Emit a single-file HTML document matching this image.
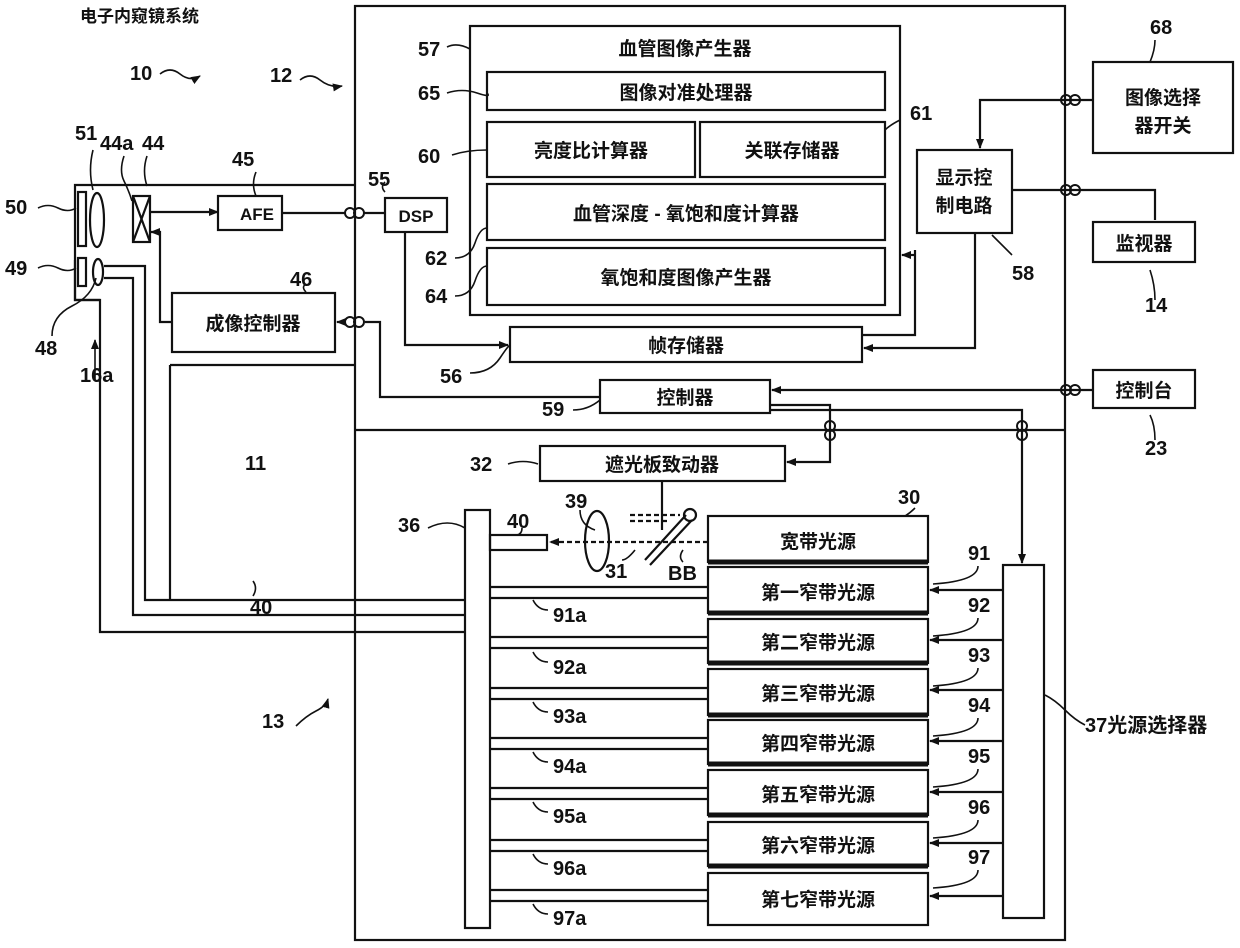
<!DOCTYPE html>
<html><head><meta charset="utf-8"><style>
body{margin:0;background:#fff}
svg text{font-family:"Liberation Sans","Noto Sans CJK SC",sans-serif;font-weight:bold;fill:#111}
.c{font-size:19px;text-anchor:middle}
.n{font-size:20px}
</style></head><body>
<svg width="1240" height="943" viewBox="0 0 1240 943" xmlns="http://www.w3.org/2000/svg">
<defs><marker id="a" markerUnits="userSpaceOnUse" markerWidth="10" markerHeight="8" refX="9" refY="4" orient="auto"><path d="M0,0 L10,4 L0,8 z" fill="#111"/></marker></defs>
<g fill="none" stroke="#111" stroke-width="2.2">
<rect x="355" y="6" width="710" height="934"/>
<line x1="355" y1="430" x2="1065" y2="430"/>
<polyline points="355,185 75,185 75,300 100,300"/>
<line x1="355" y1="365" x2="170" y2="365"/>
<polyline points="170,365 170,600"/>
<rect x="78" y="192" width="8" height="54"/>
<ellipse cx="97" cy="220" rx="7" ry="27"/>
<rect x="78" y="258" width="8" height="28"/>
<ellipse cx="98" cy="272" rx="5" ry="13"/>
<rect x="133" y="196" width="17" height="46"/>
<line x1="133" y1="196" x2="150" y2="242"/><line x1="150" y1="196" x2="133" y2="242"/>
<polyline points="75,260 75,300 100,300 100,632 465,632"/>
<polyline points="104,266 145,266 145,600 355,600"/>
<polyline points="104,278 133,278 133,615 465,615"/>
<line x1="355" y1="600" x2="465" y2="600"/>
<rect x="218" y="196" width="64" height="34"/>
<rect x="385" y="198" width="62" height="34"/>
<rect x="172" y="293" width="163" height="59"/>
<rect x="470" y="26" width="430" height="289"/>
<rect x="487" y="72" width="398" height="38"/>
<rect x="487" y="122" width="208" height="55"/>
<rect x="700" y="122" width="185" height="55"/>
<rect x="487" y="184" width="398" height="56"/>
<rect x="487" y="248" width="398" height="57"/>
<rect x="917" y="150" width="95" height="83"/>
<rect x="1093" y="62" width="140" height="91"/>
<rect x="1093" y="222" width="102" height="40"/>
<rect x="1093" y="370" width="102" height="38"/>
<rect x="510" y="327" width="352" height="35"/>
<rect x="600" y="380" width="170" height="33"/>
<rect x="540" y="446" width="245" height="35"/>
<rect x="465" y="510" width="25" height="418"/>
<rect x="490" y="535" width="57" height="15"/>
<ellipse cx="597" cy="541" rx="12" ry="30"/>
<rect x="708" y="516" width="220" height="46"/>
<rect x="1003" y="565" width="41" height="353"/>
<line x1="150" y1="212" x2="218" y2="212" marker-end="url(#a)"/>
<line x1="282" y1="213" x2="345" y2="213"/>
<line x1="364" y1="213" x2="385" y2="213"/>
<polyline points="172,322 160,322 160,232 151,232" marker-end="url(#a)"/>
<line x1="345" y1="322" x2="337" y2="322" marker-end="url(#a)"/>
<polyline points="365,322 380,322 380,397 600,397"/>
<polyline points="405,232 405,345 508,345" marker-end="url(#a)"/>
<polyline points="1093,100 980,100 980,148" marker-end="url(#a)"/>
<polyline points="1012,190 1155,190 1155,220"/>
<polyline points="975,233 975,348 864,348" marker-end="url(#a)"/>
<polyline points="915,250 915,335 862,335"/>
<line x1="915" y1="255" x2="902" y2="255" marker-end="url(#a)"/>
<line x1="1093" y1="390" x2="772" y2="390" marker-end="url(#a)"/>
<polyline points="770,405 830,405 830,462 787,462" marker-end="url(#a)"/>
<polyline points="770,410 1022,410 1022,563" marker-end="url(#a)"/>
<line x1="662" y1="481" x2="662" y2="530"/>
<line x1="645" y1="560" x2="686" y2="515"/><line x1="650" y1="565" x2="692" y2="520"/>
<circle cx="690" cy="515" r="6"/>
<line x1="630" y1="515" x2="680" y2="515" stroke-dasharray="5,3"/>
<line x1="630" y1="521" x2="670" y2="521" stroke-dasharray="5,3"/>
<line x1="708" y1="542" x2="550" y2="542" stroke-dasharray="5,3" marker-end="url(#a)"/>
<line x1="708" y1="562" x2="928" y2="562" stroke-width="5"/>
</g>
<g fill="none" stroke="#111" stroke-width="2">
<circle cx="350" cy="213" r="5"/><circle cx="359" cy="213" r="5"/>
<circle cx="350" cy="322" r="5"/><circle cx="359" cy="322" r="5"/>
<circle cx="1066" cy="100" r="5"/><circle cx="1075" cy="100" r="5"/>
<circle cx="1066" cy="190" r="5"/><circle cx="1075" cy="190" r="5"/>
<circle cx="1066" cy="390" r="5"/><circle cx="1075" cy="390" r="5"/>
<circle cx="830" cy="426" r="5"/><circle cx="830" cy="435" r="5"/>
<circle cx="1022" cy="426" r="5"/><circle cx="1022" cy="435" r="5"/>
</g>
<g fill="none" stroke="#111" stroke-width="2.2">
<rect x="708" y="567" width="220" height="46"/><rect x="708" y="619" width="220" height="44"/>
<rect x="708" y="669" width="220" height="46"/><rect x="708" y="720" width="220" height="44"/>
<rect x="708" y="770" width="220" height="45"/><rect x="708" y="822" width="220" height="44"/>
<rect x="708" y="873" width="220" height="52"/>
<path d="M708,613H928M708,663H928M708,715H928M708,764H928M708,815H928M708,866H928" stroke-width="5"/>
<path d="M490,587H708M490,598H708M490,637H708M490,648H708M490,688H708M490,699H708M490,738H708M490,749H708M490,788H708M490,799H708M490,840H708M490,851H708M490,890H708M490,901H708"/>
<line x1="1003" y1="590" x2="930" y2="590" marker-end="url(#a)"/>
<line x1="1003" y1="640" x2="930" y2="640" marker-end="url(#a)"/>
<line x1="1003" y1="690" x2="930" y2="690" marker-end="url(#a)"/>
<line x1="1003" y1="741" x2="930" y2="741" marker-end="url(#a)"/>
<line x1="1003" y1="792" x2="930" y2="792" marker-end="url(#a)"/>
<line x1="1003" y1="843" x2="930" y2="843" marker-end="url(#a)"/>
<line x1="1003" y1="896" x2="930" y2="896" marker-end="url(#a)"/>
</g>
<g fill="none" stroke="#111" stroke-width="1.6">
<path d="M160,74 q10,-8 20,0 t20,2" marker-end="url(#a)"/>
<path d="M300,80 q10,-8 20,0 t22,6" marker-end="url(#a)"/>
<path d="M38,208 q10,-5 20,0 t18,0"/>
<path d="M38,268 q10,-5 20,0 t18,0"/>
<path d="M52,336 q0,-20 20,-30 t24,-28"/>
<path d="M93,150 q-5,20 0,40"/>
<path d="M124,156 q-5,15 0,25 t8,20"/>
<path d="M147,156 q-5,15 0,30"/>
<path d="M256,172 q-5,12 0,24"/>
<path d="M306,292 q-5,-5 0,-8"/>
<path d="M385,192 q-5,-5 0,-10"/>
<path d="M447,47 q10,-5 23,2"/>
<path d="M447,93 q15,-5 30,0 t10,0"/>
<path d="M452,155 q15,-5 35,-5"/>
<path d="M455,258 q15,0 20,-15 t12,-15"/>
<path d="M455,296 q15,0 20,-15 t12,-15"/>
<path d="M900,120 q-10,5 -15,10"/>
<path d="M470,373 q20,0 30,-15 t10,-12"/>
<path d="M573,410 q15,0 27,-10"/>
<path d="M508,464 q15,-5 30,0"/>
<path d="M428,528 q20,-10 37,0"/>
<path d="M522,528 q0,6 -5,7"/>
<path d="M580,510 q0,15 15,20"/>
<path d="M622,560 q5,0 13,-10"/>
<path d="M683,562 q-5,-5 0,-12"/>
<path d="M1012,255 q-10,-10 -20,-20"/>
<path d="M1155,300 q0,-15 -5,-30"/>
<path d="M1155,440 q0,-15 -5,-25"/>
<path d="M1155,40 q0,10 -5,22"/>
<path d="M915,508 q-5,5 -10,8"/>
<path d="M1085,725 q-10,-5 -20,-15 t-20,-15"/>
<path d="M296,726 q10,-10 20,-15 t12,-12" marker-end="url(#a)"/>
<path d="M95,380 q0,-20 0,-40" marker-end="url(#a)"/>
<path d="M253,596 q5,-8 0,-15"/>
<path d="M978,566 q0,15 -45,18M978,618 q0,15 -45,18M978,668 q0,15 -45,18M978,718 q0,15 -45,18M978,769 q0,15 -45,18M978,820 q0,15 -45,18M978,870 q0,15 -45,18"/>
<path d="M548,610 q-10,0 -15,-10M548,662 q-10,0 -15,-10M548,712 q-10,0 -15,-10M548,762 q-10,0 -15,-10M548,812 q-10,0 -15,-10M548,864 q-10,0 -15,-10M548,914 q-10,0 -15,-10"/>
</g>
<g class="c">
<text x="257" y="220" font-size="17">AFE</text><text x="416" y="222" font-size="17">DSP</text>
<text x="253" y="330">成像控制器</text>
<text x="685" y="55">血管图像产生器</text>
<text x="686" y="99">图像对准处理器</text>
<text x="591" y="157">亮度比计算器</text>
<text x="792" y="157">关联存储器</text>
<text x="686" y="220">血管深度 - 氧饱和度计算器</text>
<text x="686" y="284">氧饱和度图像产生器</text>
<text x="964" y="184">显示控</text><text x="964" y="212">制电路</text>
<text x="1163" y="104">图像选择</text><text x="1163" y="132">器开关</text>
<text x="1144" y="250">监视器</text><text x="1144" y="397">控制台</text>
<text x="686" y="352">帧存储器</text><text x="685" y="404">控制器</text>
<text x="662" y="471">遮光板致动器</text>
<text x="818" y="548">宽带光源</text>
<text x="818" y="599">第一窄带光源</text><text x="818" y="649">第二窄带光源</text>
<text x="818" y="700">第三窄带光源</text><text x="818" y="750">第四窄带光源</text>
<text x="818" y="801">第五窄带光源</text><text x="818" y="852">第六窄带光源</text>
<text x="818" y="906">第七窄带光源</text>
</g>
<g class="n">
<text x="80" y="22" font-size="17">电子内窥镜系统</text>
<text x="130" y="80">10</text><text x="270" y="82">12</text><text x="75" y="140">51</text>
<text x="100" y="150">44a</text><text x="142" y="150">44</text><text x="232" y="166">45</text>
<text x="5" y="214">50</text><text x="5" y="275">49</text><text x="35" y="355">48</text><text x="80" y="382">16a</text>
<text x="290" y="286">46</text><text x="368" y="186">55</text><text x="418" y="56">57</text>
<text x="418" y="100">65</text><text x="418" y="163">60</text><text x="910" y="120">61</text>
<text x="425" y="265">62</text><text x="425" y="303">64</text><text x="440" y="383">56</text>
<text x="542" y="416">59</text><text x="1150" y="34">68</text><text x="1012" y="280">58</text>
<text x="1145" y="312">14</text><text x="1145" y="455">23</text>
<text x="245" y="470">11</text><text x="470" y="471">32</text><text x="398" y="532">36</text>
<text x="507" y="528">40</text><text x="565" y="508">39</text><text x="605" y="578">31</text>
<text x="668" y="580">BB</text><text x="898" y="504">30</text><text x="250" y="614">40</text>
<text x="262" y="728">13</text>
<text x="553" y="622">91a</text><text x="553" y="674">92a</text><text x="553" y="723">93a</text>
<text x="553" y="773">94a</text><text x="553" y="823">95a</text><text x="553" y="875">96a</text><text x="553" y="925">97a</text>
<text x="968" y="560">91</text><text x="968" y="612">92</text><text x="968" y="662">93</text>
<text x="968" y="712">94</text><text x="968" y="763">95</text><text x="968" y="814">96</text><text x="968" y="864">97</text>
<text x="1085" y="732">37光源选择器</text>
</g>
</svg>
</body></html>
